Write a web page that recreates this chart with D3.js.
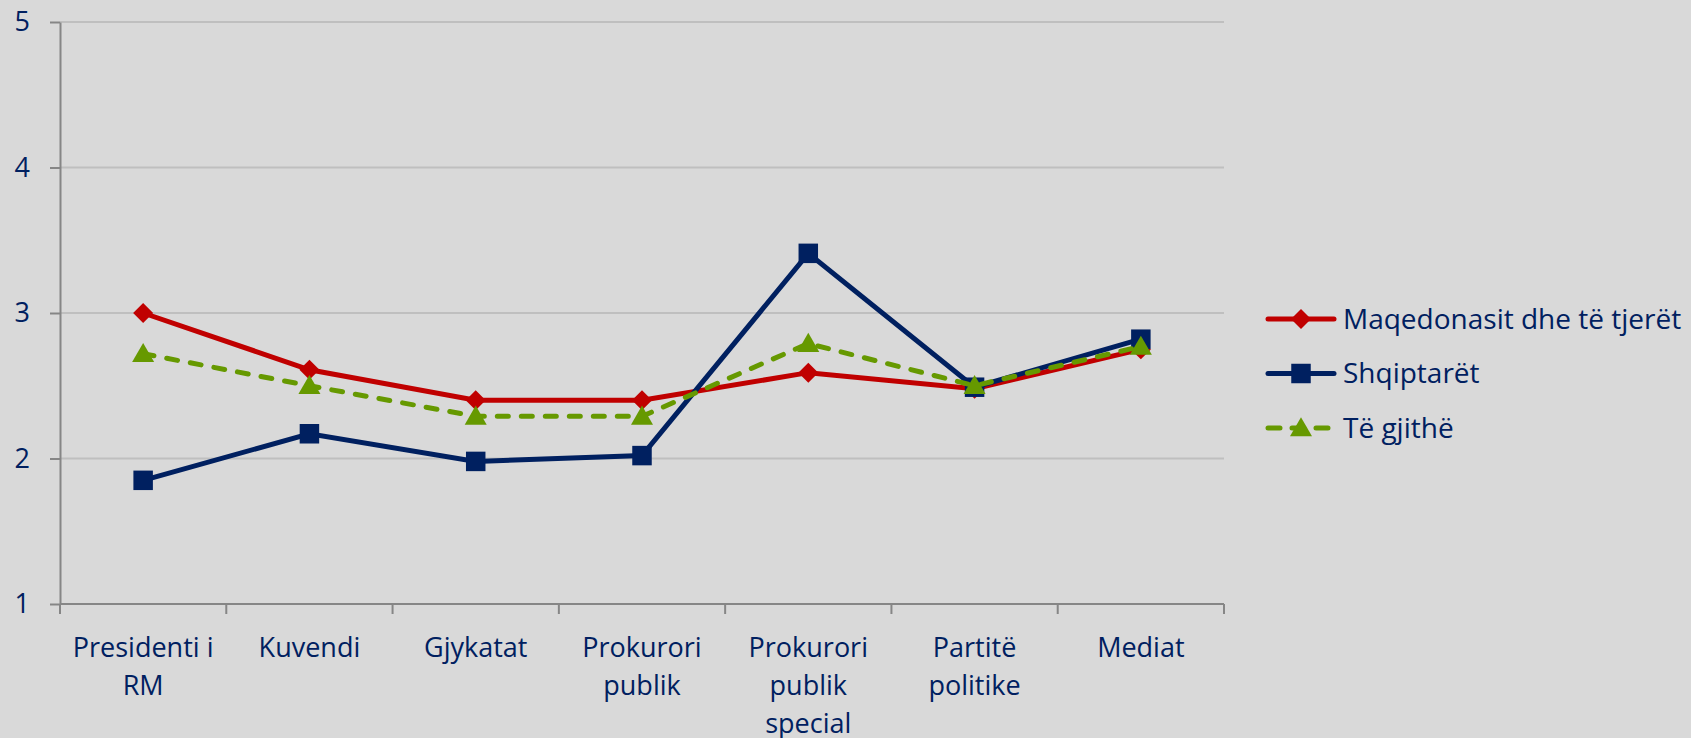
<!DOCTYPE html>
<html lang="sq">
<head>
    <meta charset="UTF-8">
    <title>Besimi në institucione</title>
    <style>
        html, body {
            margin: 0;
            padding: 0;
            background: #d9d9d9;
        }
        svg text {
            font-family: "Open Sans", sans-serif;
            fill: #002060;
        }
        .grid line {
            stroke: #bfbfbf;
            stroke-width: 2px;
        }
        .axis path, .axis line {
            stroke: #868686;
            stroke-width: 2px;
        }
    </style>
    <script src="https://d3js.org/d3.v7.min.js"></script>
</head>
<body>
<script>
    // categories and tick labels
    const categories = ["Presidenti i RM", "Kuvendi", "Gjykatat", "Prokurori publik",
        "Prokurori publik special", "Partitë politike", "Mediat"];
    const categoryLines = [["Presidenti i", "RM"], ["Kuvendi"], ["Gjykatat"], ["Prokurori", "publik"],
        ["Prokurori", "publik", "special"], ["Partitë", "politike"], ["Mediat"]];
    const yTicks = [1, 2, 3, 4, 5];

    // series values
    const maqedonasit = [3.00, 2.61, 2.40, 2.40, 2.59, 2.48, 2.75];
    const shqiptaret = [1.85, 2.17, 1.98, 2.02, 3.41, 2.49, 2.82];
    const teGjithe = [2.72, 2.50, 2.29, 2.29, 2.79, 2.50, 2.77];

    const seriesNames = ["Maqedonasit dhe të tjerët", "Shqiptarët", "Të gjithë"];

    const width = 1691, height = 738;
    const margin = {top: 22, right: 467, bottom: 134, left: 60};

    const series = [
        {name: seriesNames[0], values: maqedonasit, color: "#c00000", symbol: "diamond", dash: null},
        {name: seriesNames[1], values: shqiptaret, color: "#002060", symbol: "square", dash: null},
        {name: seriesNames[2], values: teGjithe, color: "#669900", symbol: "triangle", dash: "11,13"}
    ];

    const svg = d3.select("body").append("svg")
        .attr("width", width)
        .attr("height", height);

    const x = d3.scaleBand()
        .domain(categories)
        .range([margin.left, width - margin.right]);

    const y = d3.scaleLinear()
        .domain([1, 5])
        .range([height - margin.bottom, margin.top]);

    // horizontal gridlines
    svg.append("g")
        .attr("class", "grid")
        .selectAll("line")
        .data(yTicks.slice(1))
        .join("line")
        .attr("x1", margin.left)
        .attr("x2", width - margin.right)
        .attr("y1", d => y(d))
        .attr("y2", d => y(d));

    // y axis
    const yAxis = svg.append("g")
        .attr("class", "axis")
        .attr("transform", `translate(${margin.left},0)`)
        .call(d3.axisLeft(y).tickValues(yTicks).tickFormat(d3.format("d"))
            .tickSize(10).tickSizeOuter(0).tickPadding(20));
    yAxis.selectAll("text")
        .style("font-size", "27px");

    // x axis: line plus ticks on band edges
    const xAxis = svg.append("g").attr("class", "axis");
    xAxis.append("line")
        .attr("x1", margin.left)
        .attr("x2", width - margin.right)
        .attr("y1", y(1))
        .attr("y2", y(1));
    const edges = categories.map(c => x(c)).concat([x.range()[1]]);
    xAxis.selectAll(".xtick")
        .data(edges)
        .join("line")
        .attr("class", "xtick")
        .attr("x1", d => d)
        .attr("x2", d => d)
        .attr("y1", y(1))
        .attr("y2", y(1) + 10);

    // category labels
    const labels = svg.append("g")
        .selectAll("text")
        .data(categories)
        .join("text")
        .attr("text-anchor", "middle")
        .style("font-size", "27px")
        .attr("x", d => x(d) + x.bandwidth() / 2)
        .attr("y", y(1) + 53);
    labels.selectAll("tspan")
        .data((d, i) => categoryLines[i])
        .join("tspan")
        .attr("x", function () { return d3.select(this.parentNode).attr("x"); })
        .attr("dy", (d, i) => i === 0 ? 0 : 38)
        .text(d => d);

    const symbols = {
        diamond: d3.symbol().type(d3.symbolSquare).size(200),
        square: d3.symbol().type(d3.symbolSquare).size(380),
        triangle: d3.symbol().type(d3.symbolTriangle).size(210)
    };

    const line = d3.line()
        .x((d, i) => x(categories[i]) + x.bandwidth() / 2)
        .y(d => y(d));

    series.forEach(s => {
        const g = svg.append("g");
        g.append("path")
            .datum(s.values)
            .attr("fill", "none")
            .attr("stroke", s.color)
            .attr("stroke-width", 5)
            .attr("stroke-linecap", s.dash ? "round" : "butt")
            .attr("stroke-dasharray", s.dash)
            .attr("d", line);
        g.selectAll(".marker")
            .data(s.values)
            .join("path")
            .attr("class", "marker")
            .attr("fill", s.color)
            .attr("d", symbols[s.symbol])
            .attr("transform", (d, i) => {
                const px = x(categories[i]) + x.bandwidth() / 2;
                const py = y(d) + (s.symbol === "triangle" ? 2 : 0);
                return `translate(${px},${py})` + (s.symbol === "diamond" ? " rotate(45)" : "");
            });
    });

    // legend
    const legend = svg.append("g")
        .attr("transform", "translate(1265, 319)");
    const rows = legend.selectAll("g")
        .data(series)
        .join("g")
        .attr("transform", (d, i) => `translate(0, ${i * 54.5})`);
    rows.append("line")
        .attr("x1", 3)
        .attr("x2", 69)
        .attr("stroke", d => d.color)
        .attr("stroke-width", 5)
        .attr("stroke-linecap", "round")
        .attr("stroke-dasharray", d => d.dash ? "12,12" : null);
    rows.append("path")
        .attr("fill", d => d.color)
        .attr("d", d => symbols[d.symbol]())
        .attr("transform", d => "translate(36," + (d.symbol === "triangle" ? 2 : 0) + ")"
            + (d.symbol === "diamond" ? " rotate(45)" : ""));
    rows.append("text")
        .attr("x", 78)
        .attr("dy", "0.35em")
        .style("font-size", "28px")
        .text(d => d.name);
</script>
</body>
</html>
